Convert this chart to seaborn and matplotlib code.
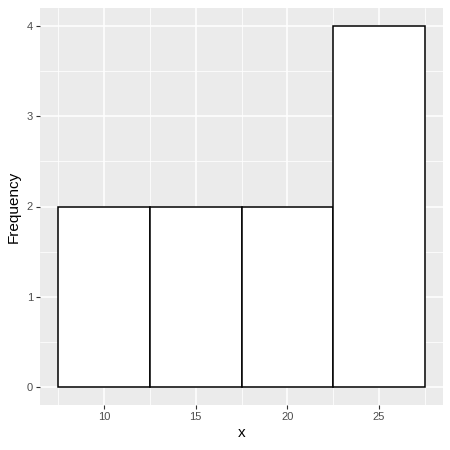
import matplotlib
matplotlib.use("Agg")
import matplotlib.pyplot as plt
import seaborn as sns
import numpy as np
import pandas as pd

x_values = [10, 10, 15, 15, 20, 20, 25, 25, 25, 25]
bin_edges = [7.5, 12.5, 17.5, 22.5, 27.5]
x_ticks = [10, 15, 20, 25]
y_ticks = [0, 1, 2, 3, 4]

df = pd.DataFrame({"x": x_values})

sns.set_theme(style="darkgrid")
plt.rcParams['font.family'] = ['Liberation Sans', 'DejaVu Sans']

fig = plt.figure(figsize=(4.5, 4.5), dpi=100)
ax = fig.add_axes([40/450, 45/450, 403/450, 397/450])
ax.set_facecolor("#EBEBEB")

sns.histplot(data=df, x="x", bins=bin_edges, stat="count", color="white",
             edgecolor="black", linewidth=1.1, alpha=1, ax=ax, zorder=3)

ax.set_xlim(6.5, 28.5)
ax.set_ylim(-0.2, 4.2)
ax.set_xticks(x_ticks)
ax.set_yticks(y_ticks)
ax.set_xticks([7.5, 12.5, 17.5, 22.5, 27.5], minor=True)
ax.set_yticks([0.5, 1.5, 2.5, 3.5], minor=True)
ax.grid(which="major", color="white", linewidth=1.1, zorder=0)
ax.grid(which="minor", color="white", linewidth=0.55, zorder=0)
ax.set_axisbelow(True)
for s in ax.spines.values():
    s.set_visible(False)
ax.tick_params(which="major", length=3, width=0.8, color="#333333",
               labelsize=8, labelcolor="#4D4D4D", pad=2, bottom=True, left=True)
ax.tick_params(which="minor", length=0)
ax.set_xlabel("x", fontsize=11, color="black", labelpad=3)
ax.set_ylabel("Frequency", fontsize=11, color="black", labelpad=4)

fig.savefig("out.png", dpi=100, facecolor="white")
